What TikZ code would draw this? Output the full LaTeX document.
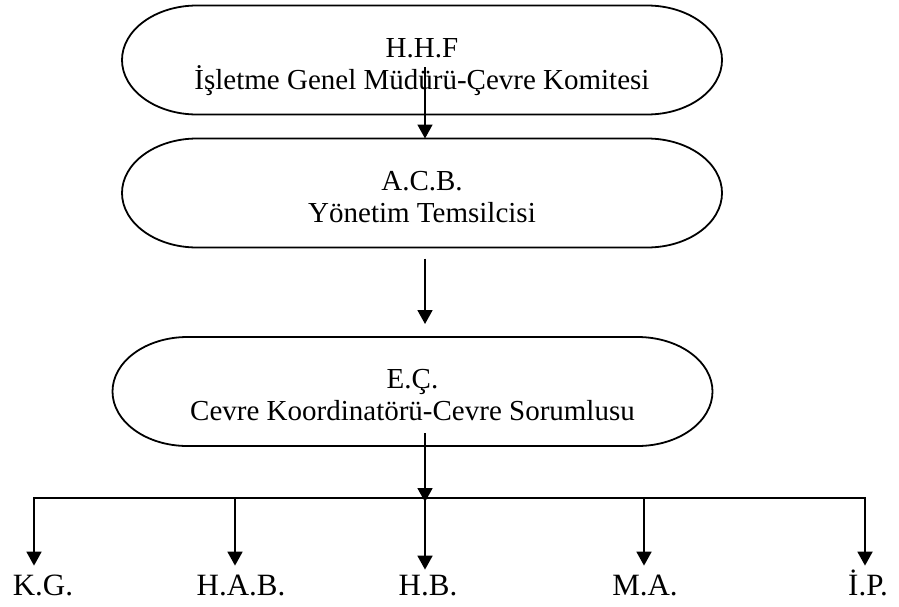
\documentclass[tikz,border=0pt]{standalone}
\usepackage{fontspec}
\setmainfont{Liberation Serif}
\usepackage{tikz}
\usetikzlibrary{arrows.meta}
\tikzstyle{unit} = [rectangle, minimum width=300pt, minimum height=54.5pt, outer sep=0pt, align=center, font=\fontsize{14.5}{16.2}\selectfont]
\tikzstyle{member} = [anchor=base, inner sep=4pt, text height=10.5pt, font=\fontsize{15.5}{17}\selectfont]
\tikzstyle{arrow} = [line width=0.9pt, -{Triangle[width=7.5pt,length=7pt]}]
\tikzstyle{bus} = [line width=0.9pt]

\begin{document}
\begin{tikzpicture}
			[x=0.5pt, y=-0.5pt, node distance=66.5pt]
			\useasboundingbox (0,0) rectangle (899,606);

			\node (hhf) [unit] at (422,60) {\rule{0pt}{17.2pt}H.H.F\\İşletme Genel Müdürü-Çevre Komitesi\rule[-4pt]{0pt}{4pt}};
			\node (acb) [unit, below of = hhf] {\rule{0pt}{17.2pt}A.C.B.\\Yönetim Temsilcisi\rule[-4pt]{0pt}{4pt}};
			\node (ec) [unit, node distance=99.25pt, below of = acb, xshift=-4.75pt] {\rule{0pt}{17.2pt}E.Ç.\\Cevre Koordinatörü-Cevre Sorumlusu\rule[-4pt]{0pt}{4pt}};

			% stadium outlines
			\foreach \n in {hhf,acb,ec}
				\draw [bus] ([xshift=37.5pt]\n.north west) -- ([xshift=-37.5pt]\n.north east)
					arc [start angle=90, end angle=-90, x radius=37.5pt, y radius=27.25pt]
					-- ([xshift=37.5pt]\n.south west)
					arc [start angle=270, end angle=90, x radius=37.5pt, y radius=27.25pt] -- cycle;

			\node (kg) [member] at (43,595) {K.G.};
			\node (hab) [member] at (241,595) {H.A.B.};
			\node (hb) [member] at (428,595) {H.B.};
			\node (ma) [member] at (645,595) {M.A.};
			\node (ip) [member] at (868,595) {İ.P.};

			\coordinate (top) at ([shift={(1.5pt,-3.5pt)}]hhf.center);
			\coordinate (low) at ([shift={(12.5,41.5)}]ec.center);
			\coordinate (bus) at (425,498);

			\draw [arrow] (top) -- (top |- acb.north);
			\draw [arrow, shorten <=5.5pt, shorten >=6.5pt] (top |- acb.south) -- (top |- ec.north);
			\draw [arrow] (low) -- ([yshift=-2pt]bus);

			% branches
			\draw [arrow] (bus) -| ([xshift=-4.5pt]kg.north);
			\draw [arrow] (bus) -| ([xshift=-3pt]hab.north);
			\draw [arrow, shorten >=-2pt] (bus) -- (bus |- hb.north);
			\draw [arrow] (bus) -| ([xshift=-0.5pt]ma.north);
			\draw [arrow] (bus) -| ([xshift=-1.5pt]ip.north);

			\end{tikzpicture}
\end{document}
